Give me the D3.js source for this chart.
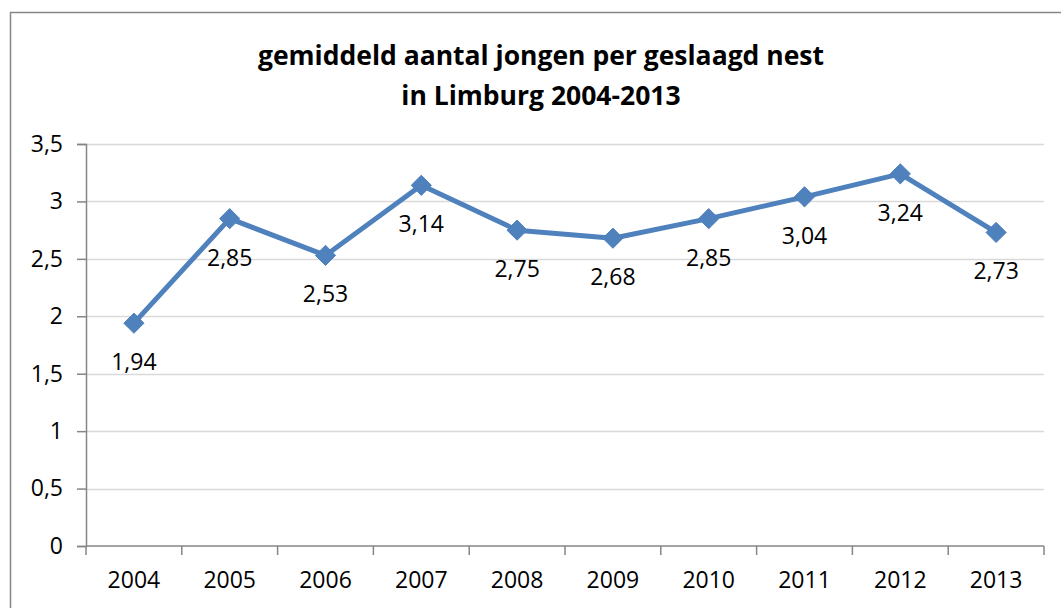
<!DOCTYPE html>
<html>
<head>
<meta charset="utf-8">
<script src="https://cdn.jsdelivr.net/npm/d3@7"></script>
<style>
  body { margin: 0; background: #fff; }
  svg text { font-family: "Open Sans", "Liberation Sans", sans-serif; fill: #000; }
</style>
</head>
<body>
<svg id="chart" width="1061" height="608"></svg>
<script>
// data
const years = ["2004", "2005", "2006", "2007", "2008", "2009", "2010", "2011", "2012", "2013"];
const values = [1.94, 2.85, 2.53, 3.14, 2.75, 2.68, 2.85, 3.04, 3.24, 2.73];
const yTicks = [0, 0.5, 1, 1.5, 2, 2.5, 3, 3.5];
const titleLines = ["gemiddeld aantal jongen per geslaagd nest", "in Limburg 2004-2013"];

const fmt = (v) => String(v).replace(".", ",");

var svg = d3.select("#chart");
var plotLeft = 86, plotRight = 1044, plotTop = 144, plotBottom = 546;

// chart border (right and bottom edges fall outside the picture)
svg.append("rect")
	.attr("x", 10.5).attr("y", 12.5)
	.attr("width", 1100).attr("height", 640)
	.attr("fill", "none")
	.attr("stroke", "#868686")
	.attr("stroke-width", 1.5);

var x = d3.scaleBand().domain(years).range([plotLeft, plotRight]);
var y = d3.scaleLinear().domain([0, 3.5]).range([plotBottom, plotTop]);

// gridlines
svg.append("g")
	.selectAll("line")
	.data(yTicks.filter(d => d > 0))
	.join("line")
		.attr("x1", plotLeft).attr("x2", plotRight)
		.attr("y1", d => Math.round(y(d)) + 0.5)
		.attr("y2", d => Math.round(y(d)) + 0.5)
		.attr("stroke", "#d9d9d9")
		.attr("stroke-width", 1.5);

// y axis
var yAxis = svg.append("g")
	.attr("transform", `translate(${plotLeft},0)`)
	.call(d3.axisLeft(y).tickValues(yTicks).tickFormat(fmt).tickSize(9).tickPadding(14));
yAxis.select(".domain").attr("stroke", "#868686").attr("stroke-width", 1.5);
yAxis.selectAll(".tick line").attr("stroke", "#868686").attr("stroke-width", 1.5);
yAxis.selectAll("text").attr("font-size", 23).attr("fill", "#000")
	.attr("font-family", "'Open Sans', sans-serif");

// x axis, ticks between categories
var xAxis = svg.append("g")
	.attr("transform", `translate(0,${plotBottom})`);
xAxis.append("line")
	.attr("x1", plotLeft).attr("x2", plotRight)
	.attr("stroke", "#868686").attr("stroke-width", 1.5);
var edges = years.map(d => x(d)).concat([plotRight]);
xAxis.selectAll(".tk")
	.data(edges)
	.join("line")
		.attr("class", "tk")
		.attr("x1", d => d).attr("x2", d => d)
		.attr("y1", 0).attr("y2", 9)
		.attr("stroke", "#868686").attr("stroke-width", 1.5);
xAxis.selectAll(".lbl")
	.data(years)
	.join("text")
		.attr("class", "lbl")
		.attr("x", d => x(d) + x.bandwidth() / 2)
		.attr("y", 42)
		.attr("text-anchor", "middle")
		.attr("font-size", 23)
		.text(d => d);

// line
var cx = (d, i) => x(years[i]) + x.bandwidth() / 2;
var line = d3.line()
	.x((d, i) => cx(d, i))
	.y(d => y(d));
svg.append("path")
	.datum(values)
	.attr("d", line)
	.attr("fill", "none")
	.attr("stroke", "#4f81bd")
	.attr("stroke-width", 5)
	.attr("stroke-linejoin", "round");

// diamond markers
svg.append("g")
	.selectAll("path")
	.data(values)
	.join("path")
		.attr("d", d3.symbol().type(d3.symbolDiamond2).size(260))
		.attr("transform", (d, i) => `translate(${cx(d, i)},${y(d)})`)
		.attr("fill", "#4f81bd")
		.attr("stroke", "#4f81bd")
		.attr("stroke-width", 1);

// data labels under points
svg.append("g")
	.selectAll("text")
	.data(values)
	.join("text")
		.attr("x", (d, i) => cx(d, i))
		.attr("y", d => y(d) + 47)
		.attr("text-anchor", "middle")
		.attr("font-size", 23)
		.text(fmt);

// title
svg.append("g")
	.selectAll("text")
	.data(titleLines)
	.join("text")
		.attr("x", 541)
		.attr("y", (d, i) => 65 + i * 40)
		.attr("text-anchor", "middle")
		.attr("font-size", 26.5)
		.attr("font-weight", "bold")
		.text(d => d);
</script>
</body>
</html>
